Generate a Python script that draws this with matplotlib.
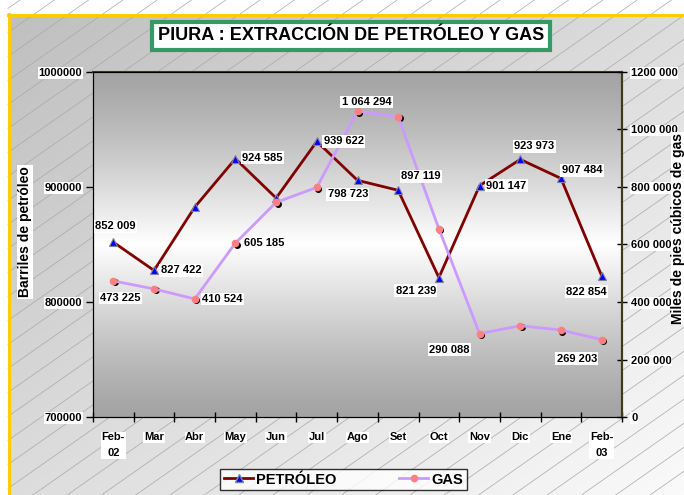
import numpy as np
import matplotlib
matplotlib.use("Agg")
from matplotlib import pyplot as plt
from matplotlib.lines import Line2D
from matplotlib.transforms import offset_copy

plt.rcParams['font.family'] = ['Liberation Sans', 'DejaVu Sans']

# data
meses = ['Feb-\n02', 'Mar', 'Abr', 'May', 'Jun', 'Jul', 'Ago', 'Set', 'Oct',
         'Nov', 'Dic', 'Ene', 'Feb-\n03']
petroleo = [852009, 827422, 882500, 924585, 890400, 939622, 905800, 897119,
            821239, 901147, 923973, 907484, 822854]
gas = [473225, 445500, 410524, 605185, 746500, 798723, 1064294, 1044000,
       654700, 290088, 317400, 302400, 269203]

left_ticks = [700000, 800000, 900000, 1000000]
left_labels = ['700000', '800000', '900000', '1000000']
right_ticks = [0, 200000, 400000, 600000, 800000, 1000000, 1200000]
right_labels = ['0', '200 000', '400 000', '600 000', '800 000', '1000 000', '1200 000']

# label offsets in pixels (dx, dy with y downwards); None = no label
off_pet = [(2, -16), (27, 0), None, (27, -1), None, (27, 0), None, (23, -14),
           (-23, 13), (27, 0), (14, -13), (21, -8), (-15, 16)]
off_gas = [(7, 17), None, (28, 0), (29, 0), None, (31, 7), (9, -9), None,
           None, (-30, 16), None, None, (-25, 19)]

W, H = 684, 495
fig = plt.figure(figsize=(W / 100, H / 100), dpi=100)

# background: gray gradient with diagonal hatching and gold border
bg = fig.add_axes([0, 0, 1, 1], zorder=-1)
yy, xx = np.mgrid[0:1:100j, 0:1:100j]
g = 0.75 + 0.23 * (0.5 * xx + 0.5 * yy)
bg.imshow(np.stack([g, g, g], axis=-1), extent=[8, W, H, 14], aspect='auto', zorder=0)
xs = np.array([8, W])
for c in np.arange(14, H + 0.7 * W + 24, 24):
    bg.plot(xs, c - 0.7 * xs, color='#a8a8a8', lw=0.5, zorder=1)
bg.set_xlim(0, W)
bg.set_ylim(H, 0)
bg.axis('off')
bg.plot([8, W], [14.5, 14.5], color='#ffcc00', lw=2.2, zorder=2)
bg.plot([8.5, 8.5], [14, H], color='#ffcc00', lw=2.2, zorder=2)

# plot area
x0, x1, y0, y1 = 93, 622, 72, 417
ax = fig.add_axes([x0 / W, 1 - y1 / H, (x1 - x0) / W, (y1 - y0) / H])
t = np.linspace(0, 1, 200)
shade = 0.64 + 0.36 * (1 - np.abs(t - 0.5) * 2) ** 1.2
img = np.stack([shade, shade, shade], axis=-1)[:, None, :].repeat(2, axis=1)
ax.imshow(img, extent=[0, 1, 0, 1], transform=ax.transAxes, aspect='auto', zorder=0)

x = np.arange(len(meses))
ax.plot(x, petroleo, color='#800000', lw=2, marker='^', ms=5.5,
        mfc='#0000ff', mec='#8080a0', mew=0.8, zorder=3)
ax.set_xlim(-0.5, len(meses) - 0.5)
ax.set_ylim(700000, 1000000)
ax.set_yticks(left_ticks)
ax.set_yticklabels(left_labels, fontsize=8, fontweight='bold')
ax.tick_params(axis='y', direction='out', length=5, width=1, pad=3)
ax.set_xticks(x)
ax.set_xticklabels(meses, fontsize=8, fontweight='bold', linespacing=1.75)
ax.set_xticks(np.arange(-0.5, len(meses)), minor=True)
ax.tick_params(axis='x', which='major', length=0, pad=11)
ax.tick_params(axis='x', which='minor', direction='inout', length=7, width=1)
for s in ['left', 'bottom']:
    ax.spines[s].set_color('black')
for s in ['top', 'right']:
    ax.spines[s].set_color('#403818')
    ax.spines[s].set_linewidth(1.5)

ax2 = ax.twinx()
ax2.patch.set_visible(False)
shadow = offset_copy(ax2.transData, fig=fig, x=1.5, y=-1.5, units='dots')
ax2.plot(x, gas, 'o', color='black', ms=4, transform=shadow, zorder=2)
ax2.plot(x, gas, color='#cc99ff', lw=2, marker='o', ms=4.5,
         mfc='#ff8080', mec='#ff8080', zorder=3)
ax2.set_ylim(0, 1200000)
ax2.set_yticks(right_ticks)
ax2.set_yticklabels(right_labels, fontsize=8, fontweight='bold')
ax2.tick_params(axis='y', direction='inout', length=7, width=1, pad=3)
ax2.spines['right'].set_color('#403818')
ax2.spines['right'].set_linewidth(1.5)

for lbl in ax.get_yticklabels() + ax2.get_yticklabels() + ax.get_xticklabels():
    lbl.set_bbox(dict(fc='white', ec='none', pad=0.5))

box = dict(fc='white', ec='none', pad=1)
for i, v in enumerate(petroleo):
    if off_pet[i] is None:
        continue
    dx, dy = off_pet[i]
    ax2.annotate(f"{v:,}".replace(',', ' '), (x[i], v), xycoords=ax.transData,
                 xytext=(dx, -dy), textcoords='offset pixels', ha='center',
                 va='center', fontsize=8, fontweight='bold', bbox=box, zorder=6)
for i, v in enumerate(gas):
    if off_gas[i] is None:
        continue
    dx, dy = off_gas[i]
    ax2.annotate(f"{v:,}".replace(',', ' '), (x[i], v), xycoords=ax2.transData,
                 xytext=(dx, -dy), textcoords='offset pixels', ha='center',
                 va='center', fontsize=8, fontweight='bold', bbox=box, zorder=6)

# titles and axis names
fig.text(351 / W, 1 - 36 / H, 'PIURA : EXTRACCIÓN DE PETRÓLEO Y GAS',
         ha='center', va='center', fontsize=13, fontweight='bold',
         bbox=dict(boxstyle='square,pad=0.3', fc='white', ec='#339966', lw=3))
fig.text(25 / W, 1 - 232 / H, 'Barriles de petróleo', rotation=90,
         ha='center', va='center', fontsize=10, fontweight='bold',
         bbox=dict(fc='white', ec='none', pad=1))
fig.text(678 / W, 1 - 228 / H, 'Miles de pies cúbicos de gas', rotation=90,
         ha='center', va='center', fontsize=10, fontweight='bold',
         bbox=dict(fc='white', ec='none', pad=0.3))

handles = [Line2D([], [], color='#800000', lw=2, marker='^', ms=5.5,
                  mfc='#0000ff', mec='#8080a0'),
           Line2D([], [], color='#cc99ff', lw=2, marker='o', ms=4.5,
                  mfc='#ff8080', mec='#ff8080')]
leg = fig.legend(handles, ['PETRÓLEO', 'GAS'], loc='center',
                 bbox_to_anchor=(343.5 / W, 1 - 479.5 / H), ncol=2,
                 frameon=True, fancybox=False, edgecolor='black',
                 prop=dict(weight='bold', size=10.5), handlelength=2,
                 handletextpad=0.2, columnspacing=4.3, borderpad=0.25,
                 borderaxespad=0)
leg.get_frame().set_linewidth(1)

fig.savefig('out.png', dpi=100)
